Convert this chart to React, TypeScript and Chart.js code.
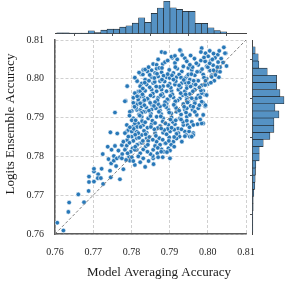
import React, { useEffect, useRef } from "react";
import { Chart, registerables } from "chart.js";
Chart.register(...registerables);

const tickValues = [0.76, 0.77, 0.78, 0.79, 0.8, 0.81];
const xLabel = "Model Averaging Accuracy";
const yLabel = "Logits Ensemble Accuracy";
const diagonal = [0.76, 0.81];

// [Model Averaging Accuracy, Logits Ensemble Accuracy]
const points: [number, number][] = [
  [0.7606, 0.7629], [0.7622, 0.7609], [0.7635, 0.7657], [0.7637, 0.7681], [0.7661, 0.7702], [0.7676, 0.7682],
  [0.7688, 0.7711], [0.7689, 0.7734], [0.7689, 0.7748], [0.7702, 0.7735], [0.7702, 0.7761], [0.7702, 0.7768],
  [0.7713, 0.7754], [0.7712, 0.7744], [0.772, 0.7744], [0.7726, 0.7729], [0.7722, 0.7768], [0.7725, 0.7806],
  [0.7745, 0.7862], [0.7763, 0.7859], [0.7738, 0.7825], [0.7748, 0.7817], [0.7754, 0.7801], [0.774, 0.7793],
  [0.7747, 0.7782], [0.7754, 0.7789], [0.776, 0.7775], [0.7744, 0.7763], [0.777, 0.7741], [0.7746, 0.7746],
  [0.7762, 0.7795], [0.777, 0.7798], [0.7776, 0.7806], [0.7766, 0.7815], [0.7757, 0.7827], [0.7775, 0.7829],
  [0.7785, 0.7821], [0.7794, 0.7799], [0.7796, 0.7789], [0.7786, 0.7791], [0.7779, 0.7767], [0.7803, 0.7821],
  [0.7814, 0.7817], [0.7823, 0.7834], [0.7789, 0.7842], [0.7801, 0.7851], [0.7814, 0.7847], [0.7827, 0.7855],
  [0.784, 0.7847], [0.7838, 0.786], [0.7788, 0.7864], [0.7805, 0.7864],
  [0.7789, 0.7981], [0.7785, 0.7943], [0.7757, 0.7913], [0.7801, 0.7917], [0.7825, 0.8012], [0.7831, 0.8023],
  [0.7838, 0.8024], [0.7827, 0.7988], [0.7818, 0.7967], [0.7809, 0.7963], [0.7823, 0.7954], [0.7814, 0.7937],
  [0.7831, 0.7941], [0.7823, 0.792], [0.7836, 0.7915], [0.7805, 0.7877], [0.7818, 0.7885], [0.7792, 0.7868],
  [0.7814, 0.7864],
  [0.7879, 0.8069], [0.7888, 0.8067], [0.7929, 0.8072], [0.7933, 0.8061], [0.7907, 0.8054], [0.7914, 0.8041],
  [0.7857, 0.8038], [0.7866, 0.8036], [0.7882, 0.8038], [0.7888, 0.8043], [0.7866, 0.8026], [0.7853, 0.8022],
  [0.7873, 0.8028], [0.7899, 0.8023], [0.792, 0.8026], [0.7936, 0.8032], [0.7949, 0.8028], [0.783, 0.8011],
  [0.7842, 0.8019], [0.7862, 0.8015], [0.7879, 0.8017], [0.791, 0.8015], [0.7932, 0.8019], [0.7836, 0.7998],
  [0.7853, 0.8004], [0.787, 0.8006], [0.7892, 0.8004], [0.79, 0.8002], [0.7918, 0.8004], [0.7945, 0.8006],
  [0.7815, 0.7994], [0.7823, 0.7981], [0.784, 0.7985], [0.7857, 0.7989], [0.7875, 0.7994], [0.7883, 0.7981],
  [0.79, 0.7987], [0.7914, 0.7985], [0.7932, 0.7989], [0.7945, 0.7985], [0.7823, 0.7968], [0.7836, 0.7969],
  [0.7853, 0.7972], [0.7866, 0.7968], [0.7879, 0.7972], [0.7892, 0.7968], [0.7905, 0.7969], [0.7923, 0.7972],
  [0.794, 0.7968], [0.7783, 0.7942], [0.7805, 0.7951], [0.7818, 0.7946], [0.7831, 0.7955], [0.7844, 0.7946],
  [0.7857, 0.7955], [0.787, 0.7951], [0.7883, 0.7955], [0.7897, 0.7946], [0.791, 0.7952], [0.7927, 0.7949],
  [0.7945, 0.7952], [0.7814, 0.7933], [0.7827, 0.7929], [0.7853, 0.7933], [0.7875, 0.7929], [0.7892, 0.7933],
  [0.7914, 0.7929], [0.7936, 0.7933],
  [0.8042, 0.8081], [0.7984, 0.8079], [0.7982, 0.8069], [0.7994, 0.8066], [0.8026, 0.8062], [0.8047, 0.8066],
  [0.8001, 0.8058], [0.8019, 0.8054], [0.7982, 0.8047], [0.7993, 0.8045], [0.8008, 0.8047], [0.8027, 0.8043],
  [0.7975, 0.8036], [0.7997, 0.8032], [0.8014, 0.8035], [0.8032, 0.803], [0.8049, 0.8033], [0.7958, 0.8023],
  [0.798, 0.8019], [0.8006, 0.8021], [0.8023, 0.8019], [0.7949, 0.8011], [0.7966, 0.8009], [0.7988, 0.8011],
  [0.801, 0.8009], [0.8029, 0.8004], [0.7953, 0.7998], [0.7975, 0.7995], [0.7997, 0.8], [0.8017, 0.7995],
  [0.7962, 0.7985], [0.7984, 0.7983], [0.8001, 0.7987], [0.7945, 0.7976], [0.7966, 0.7972], [0.7988, 0.7969],
  [0.7953, 0.7961], [0.7975, 0.7957], [0.7993, 0.7959], [0.7945, 0.7946], [0.7966, 0.7942], [0.7988, 0.7938],
  [0.7958, 0.7929], [0.7993, 0.7929],
  [0.7805, 0.7938], [0.7823, 0.7937], [0.7849, 0.7938], [0.787, 0.7935], [0.7892, 0.7937], [0.7914, 0.7938],
  [0.7936, 0.7935], [0.7796, 0.7915], [0.7814, 0.792], [0.7831, 0.7915], [0.7853, 0.7921], [0.7875, 0.7918],
  [0.7897, 0.792], [0.7918, 0.7915], [0.794, 0.792], [0.7805, 0.7898], [0.7827, 0.7902], [0.7844, 0.7898],
  [0.7866, 0.7902], [0.7883, 0.7898], [0.7905, 0.7901], [0.7927, 0.7898], [0.7945, 0.7902], [0.7788, 0.7881],
  [0.7809, 0.7885], [0.7831, 0.7881], [0.7853, 0.7883], [0.7875, 0.7878], [0.7897, 0.7881], [0.7914, 0.7883],
  [0.7936, 0.7881], [0.7783, 0.786], [0.7801, 0.7864], [0.7818, 0.786], [0.784, 0.7861], [0.7862, 0.786],
  [0.7883, 0.7861], [0.7901, 0.7864], [0.7923, 0.786], [0.794, 0.7864], [0.7779, 0.7838], [0.7805, 0.784],
  [0.7827, 0.7835], [0.7844, 0.784], [0.7866, 0.7838], [0.7888, 0.7834], [0.791, 0.7838], [0.7932, 0.7838],
  [0.7783, 0.7817], [0.7809, 0.7817], [0.7831, 0.7818], [0.7857, 0.7817], [0.7879, 0.7818], [0.7897, 0.7821],
  [0.7775, 0.7795], [0.7801, 0.7798], [0.7831, 0.7795], [0.7857, 0.7795], [0.7901, 0.7795], [0.7809, 0.7778],
  [0.7836, 0.7773],
  [0.7949, 0.7941], [0.7966, 0.7937], [0.7984, 0.7941], [0.7994, 0.7932], [0.7945, 0.7924], [0.796, 0.792],
  [0.7975, 0.7924], [0.7988, 0.7907], [0.7971, 0.7907], [0.7953, 0.7907], [0.7958, 0.7889], [0.7973, 0.7883],
  [0.7988, 0.7885], [0.7947, 0.7881], [0.7951, 0.7864], [0.7962, 0.786], [0.7943, 0.7855],
  [0.7856, 0.7801], [0.7868, 0.7808], [0.7882, 0.7798], [0.7901, 0.7815], [0.7885, 0.7812], [0.794, 0.7852],
  [0.7953, 0.7851], [0.7962, 0.7855],
  [0.7905, 0.8057], [0.7927, 0.8074], [0.794, 0.8053], [0.7914, 0.8059], [0.7836, 0.8024], [0.8045, 0.8066],
  [0.801, 0.8005], [0.8032, 0.8018], [0.7993, 0.7984], [0.7984, 0.7963], [0.7997, 0.7958], [0.7984, 0.7885],
  [0.7962, 0.7881], [0.7958, 0.7851],
  [0.7835, 0.799], [0.7848, 0.7978], [0.7861, 0.7992], [0.7874, 0.7979], [0.7887, 0.7993], [0.7903, 0.7977],
  [0.7916, 0.7994], [0.7929, 0.7978], [0.7941, 0.7991], [0.7829, 0.796], [0.7842, 0.7949], [0.7856, 0.7962],
  [0.7868, 0.7945], [0.7881, 0.7961], [0.7894, 0.7947], [0.7907, 0.796], [0.7921, 0.7944], [0.7934, 0.7958],
  [0.7947, 0.7939], [0.7812, 0.7925], [0.7826, 0.7912], [0.7839, 0.7926], [0.7851, 0.791], [0.7864, 0.7924],
  [0.7878, 0.7909], [0.7891, 0.7927], [0.7904, 0.7911], [0.7917, 0.7925], [0.793, 0.7908], [0.7943, 0.7913],
  [0.7801, 0.7893], [0.7815, 0.7876], [0.7828, 0.7891], [0.7842, 0.7874], [0.7855, 0.7892], [0.7869, 0.7873],
  [0.7882, 0.789], [0.7895, 0.7871], [0.7908, 0.7889], [0.7922, 0.7872], [0.7935, 0.7889], [0.7792, 0.7851],
  [0.7806, 0.7871], [0.782, 0.7848], [0.7833, 0.7866], [0.7847, 0.785], [0.786, 0.787], [0.7873, 0.7847],
  [0.7886, 0.7868], [0.7899, 0.7849], [0.7912, 0.7869], [0.7926, 0.7851], [0.7788, 0.7828], [0.7798, 0.7812],
  [0.7815, 0.783], [0.7823, 0.7808], [0.7838, 0.7826], [0.785, 0.7806], [0.7862, 0.7827], [0.7875, 0.783],
  [0.789, 0.7834], [0.7904, 0.783], [0.7918, 0.7846], [0.7809, 0.8003], [0.782, 0.8016], [0.7848, 0.801],
  [0.7867, 0.8013], [0.7884, 0.8008], [0.7906, 0.8009], [0.7925, 0.8011], [0.794, 0.8001], [0.7957, 0.8012],
  [0.795, 0.799], [0.7961, 0.7968], [0.797, 0.795], [0.7955, 0.793], [0.7966, 0.7915], [0.798, 0.7895],
  [0.7952, 0.7875], [0.7978, 0.7932], [0.7982, 0.797], [0.7968, 0.7985], [0.7985, 0.8025], [0.797, 0.804],
  [0.799, 0.8055], [0.8012, 0.805], [0.8035, 0.8052], [0.802, 0.801], [0.8, 0.803], [0.796, 0.803],
  [0.7945, 0.8045], [0.7893, 0.7811], [0.7912, 0.7825], [0.787, 0.7798], [0.7845, 0.7788], [0.7858, 0.778],
  [0.787, 0.805], [0.7895, 0.8047], [0.792, 0.805], [0.7955, 0.806], [0.7965, 0.8052], [0.8005, 0.8072],
  [0.803, 0.8072], [0.8015, 0.8065], [0.7845, 0.803], [0.786, 0.8002], [0.788, 0.8028], [0.7895, 0.8012],
  [0.7915, 0.803], [0.793, 0.8003], [0.7953, 0.8036], [0.7972, 0.8018], [0.799, 0.8003], [0.8005, 0.804],
  [0.8025, 0.803], [0.804, 0.8042], [0.7963, 0.7995], [0.8015, 0.8022], [0.783, 0.7975], [0.7846, 0.7995],
  [0.7865, 0.798], [0.788, 0.7998], [0.7896, 0.7982], [0.791, 0.7998], [0.7925, 0.7983], [0.7937, 0.7997],
  [0.7955, 0.798], [0.7978, 0.7978], [0.7994, 0.7995], [0.8008, 0.799], [0.7815, 0.7955], [0.7834, 0.7945],
  [0.785, 0.7957], [0.7862, 0.794], [0.7877, 0.7958], [0.7888, 0.794], [0.7902, 0.7956], [0.7915, 0.7942],
  [0.7929, 0.7963], [0.7942, 0.796], [0.7958, 0.795], [0.798, 0.7952], [0.7808, 0.7928], [0.782, 0.7908],
  [0.7834, 0.7932], [0.7846, 0.7918], [0.7859, 0.793], [0.7872, 0.7915], [0.7886, 0.7932], [0.7899, 0.7913],
  [0.7911, 0.7933], [0.7925, 0.7918], [0.7938, 0.7928], [0.7962, 0.7928], [0.7795, 0.7905], [0.7811, 0.7893],
  [0.7822, 0.7905], [0.7836, 0.7888], [0.785, 0.7904], [0.7862, 0.7886], [0.7877, 0.7903], [0.7889, 0.7885],
  [0.7902, 0.7895], [0.7916, 0.7893], [0.793, 0.7895], [0.7945, 0.7892], [0.7796, 0.7875], [0.781, 0.7856],
  [0.7824, 0.7876], [0.7837, 0.7857], [0.7851, 0.7876], [0.7864, 0.7853], [0.7878, 0.7872], [0.7892, 0.7857],
  [0.7905, 0.7874], [0.7918, 0.7858], [0.7931, 0.787], [0.7795, 0.7835], [0.781, 0.7825], [0.783, 0.784],
  [0.7843, 0.783], [0.7856, 0.7843], [0.7869, 0.7822], [0.7882, 0.7843], [0.7898, 0.784], [0.7912, 0.785],
  [0.779, 0.7808], [0.7818, 0.78], [0.7842, 0.7812], [0.7878, 0.7812], [0.7805, 0.7788], [0.7823, 0.7785],
];

// marginal histograms (counts per bin)
const xHistStart = 0.76044;
const xHistWidth = 0.001648;
const xHistCounts = [2, 2, 1, 1, 1, 8, 3, 10, 13, 13, 19, 23, 31, 47, 33, 60, 76, 96, 77, 72, 66, 66, 30, 30, 17, 9, 5];
const yHistStart = 0.76048;
const yHistWidth = 0.001838;
const yHistCounts = [1, 1, 1, 2, 2, 4, 7, 8, 9, 10, 20, 20, 32, 52, 64, 64, 79, 67, 94, 82, 72, 72, 44, 19, 17, 8];

const SERIF = "'Liberation Serif', 'Times New Roman', serif";
const BAR_FILL = "#5592c4";
const BAR_EDGE = "#1e1e1e";
const POINT_FILL = "#2878b8";

const setTicks = (s: any) => {
  s.ticks = tickValues.map((v) => ({ value: v }));
};

const titlesPlugin = {
  id: "axisTitles",
  afterDraw(chart: any) {
    const ctx = chart.ctx;
    ctx.save();
    ctx.font = `13px ${SERIF}`;
    ctx.fillStyle = "#1a1a1a";
    ctx.textAlign = "center";
    ctx.textBaseline = "middle";
    ctx.fillText(xLabel, 159, 273);
    ctx.translate(11, 124);
    ctx.rotate(-Math.PI / 2);
    ctx.fillText(yLabel, 0, 0);
    ctx.restore();
  },
};

export default function App() {
  const mainRef = useRef<HTMLCanvasElement>(null);
  const topRef = useRef<HTMLCanvasElement>(null);
  const rightRef = useRef<HTMLCanvasElement>(null);

  useEffect(() => {
    const main = new Chart(mainRef.current!, {
      type: "scatter",
      data: {
        datasets: [
          {
            type: "line",
            data: diagonal.map((v) => ({ x: v, y: v })),
            borderColor: "#808080",
            borderWidth: 1,
            borderDash: [3, 2],
            pointRadius: 0,
            fill: false,
          } as any,
          {
            data: points.map(([x, y]) => ({ x, y })),
            backgroundColor: POINT_FILL,
            borderColor: "#ffffff",
            borderWidth: 0.6,
            pointRadius: 2.3,
          },
        ],
      },
      options: {
        responsive: false,
        animation: false,
        events: [],
        layout: { padding: { left: 0, top: 40, right: 40, bottom: 0 } },
        plugins: { legend: { display: false }, tooltip: { enabled: false } },
        scales: {
          x: {
            type: "linear",
            min: 0.76,
            max: 0.81,
            afterBuildTicks: setTicks,
            afterFit: (s: any) => {
              s.height = 47;
            },
            ticks: {
              callback: (v: any) => Number(v).toFixed(2),
              font: { family: SERIF, size: 10 },
              color: "#262626",
              padding: 12,
              maxRotation: 0,
              autoSkip: false,
            },
            grid: { color: "#c4c4c4", lineWidth: 0.8, drawTicks: false },
            border: { display: true, color: "#5c5c5c", width: 1.5, dash: [3, 2] },
          },
          y: {
            type: "linear",
            min: 0.76,
            max: 0.81,
            afterBuildTicks: setTicks,
            afterFit: (s: any) => {
              s.width = 55;
            },
            ticks: {
              callback: (v: any) => Number(v).toFixed(2),
              font: { family: SERIF, size: 10 },
              color: "#262626",
              padding: 11,
              autoSkip: false,
            },
            grid: { color: "#c4c4c4", lineWidth: 0.8, drawTicks: false },
            border: { display: true, color: "#5c5c5c", width: 1.5, dash: [3, 2] },
          },
        },
      },
      plugins: [titlesPlugin],
    });

    const top = new Chart(topRef.current!, {
      type: "bar",
      data: {
        datasets: [
          {
            data: xHistCounts.map((c, i) => ({ x: xHistStart + (i + 0.5) * xHistWidth, y: c })),
            backgroundColor: BAR_FILL,
            borderColor: BAR_EDGE,
            borderWidth: 0.6,
            barPercentage: 1,
            categoryPercentage: 1,
          } as any,
        ],
      },
      options: {
        responsive: false,
        animation: false,
        events: [],
        layout: { padding: { left: 55, right: 40, top: 0, bottom: 0 } },
        plugins: { legend: { display: false }, tooltip: { enabled: false } },
        scales: {
          x: {
            type: "linear",
            min: 0.76,
            max: 0.81,
            offset: false,
            afterBuildTicks: setTicks,
            afterFit: (s: any) => {
              s.height = 6.5;
            },
            ticks: { display: false },
            grid: { drawOnChartArea: false, drawTicks: true, tickLength: 2.5, color: "#555" },
            border: { display: true, color: "#444", width: 1 },
          },
          y: { display: false, min: 0, max: 100 },
        },
      },
    });

    const right = new Chart(rightRef.current!, {
      type: "bar",
      data: {
        datasets: [
          {
            data: yHistCounts.map((c, i) => ({ y: yHistStart + (i + 0.5) * yHistWidth, x: c })),
            backgroundColor: BAR_FILL,
            borderColor: BAR_EDGE,
            borderWidth: 0.6,
            barPercentage: 1,
            categoryPercentage: 1,
          } as any,
        ],
      },
      options: {
        indexAxis: "y",
        responsive: false,
        animation: false,
        events: [],
        layout: { padding: { left: 0, right: 0, top: 40, bottom: 47 } },
        plugins: { legend: { display: false }, tooltip: { enabled: false } },
        scales: {
          y: {
            type: "linear",
            position: "left",
            min: 0.76,
            max: 0.81,
            offset: false,
            afterBuildTicks: setTicks,
            afterFit: (s: any) => {
              s.width = 6.5;
            },
            ticks: { display: false },
            grid: { drawOnChartArea: false, drawTicks: true, tickLength: 2.5, color: "#555" },
            border: { display: true, color: "#444", width: 1 },
          },
          x: { display: false, min: 0, max: 100 },
        },
      },
    });

    return () => {
      main.destroy();
      top.destroy();
      right.destroy();
    };
  }, []);

  return (
    <div style={{ position: "fixed", left: 0, top: 0, width: 286, height: 281, background: "#fff" }}>
      <canvas ref={mainRef} width={286} height={281} style={{ position: "absolute", left: 0, top: 0 }} />
      <canvas ref={topRef} width={286} height={40} style={{ position: "absolute", left: 0, top: 0 }} />
      <canvas ref={rightRef} width={40} height={281} style={{ position: "absolute", left: 246, top: 0 }} />
    </div>
  );
}
